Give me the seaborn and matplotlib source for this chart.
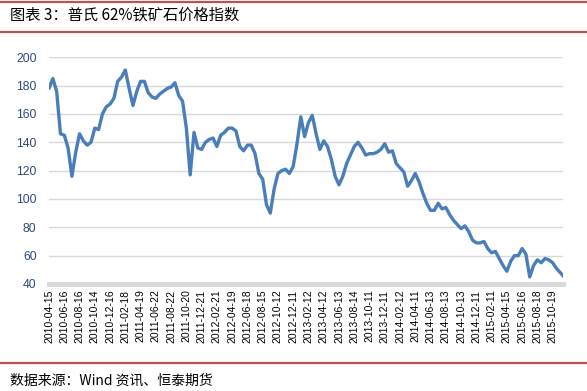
import matplotlib
matplotlib.use("Agg")
from matplotlib import pyplot as plt
from matplotlib.lines import Line2D
import numpy as np
import pandas as pd
import seaborn as sns

# Platts 62% iron ore index (4 readings per label interval)
PRICE = [178, 185, 176, 146, 145, 136, 116, 133, 146, 141,
         138, 140, 150, 149, 160, 165, 167, 171, 183, 186,
         191, 178, 166, 176, 183, 183, 175, 172, 171, 174,
         176, 178, 179, 182, 173, 169, 150, 117, 147, 136,
         135, 140, 142, 143, 137, 145, 147, 150, 150, 148,
         137, 134, 138, 138, 132, 118, 114, 96, 90, 107,
         118, 120, 121, 118, 123, 139, 158, 144, 154, 159,
         146, 135, 141, 137, 128, 116, 110, 116, 125, 131,
         137, 140, 136, 131, 132, 132, 133, 135, 139, 133,
         134, 125, 122, 119, 109, 113, 118, 112, 104, 97,
         92, 92, 97, 93, 94, 89, 85, 82, 79, 81,
         77, 71, 69, 69, 70, 65, 62, 63, 58, 53,
         49, 56, 60, 60, 65, 61, 45, 53, 57, 55,
         58, 57, 55, 51, 48, 45]

TICK_DATES = ['2010-04-15', '2010-06-16', '2010-08-16', '2010-10-14', '2010-12-16',
              '2011-02-18', '2011-04-19', '2011-06-22', '2011-08-22', '2011-10-20',
              '2011-12-21', '2012-02-21', '2012-04-19', '2012-06-18', '2012-08-15',
              '2012-10-12', '2012-12-11', '2013-02-12', '2013-04-12', '2013-06-13',
              '2013-08-14', '2013-10-11', '2013-12-11', '2014-02-12', '2014-04-11',
              '2014-06-13', '2014-08-13', '2014-10-13', '2014-12-11', '2015-02-11',
              '2015-04-15', '2015-06-16', '2015-08-18', '2015-10-19']
POINTS_PER_TICK = 4

TITLE = '图表 3：普氏 62%铁矿石价格指数'
SOURCE = '数据来源：Wind 资讯、恒泰期货'

sns.set_theme(style="white")
plt.rcParams['font.family'] = ['Noto Sans CJK SC', 'DejaVu Sans']

df = pd.DataFrame({'idx': np.arange(len(PRICE)), 'price': PRICE})

fig = plt.figure(figsize=(5.87, 3.91), dpi=100)
ax = fig.add_axes([0.0835, 0.2737, 0.8755, 0.5798])

sns.lineplot(data=df, x='idx', y='price', ax=ax, color='#4A7EBB', linewidth=2.4)

ax.set_ylim(40, 200)
ax.set_yticks(range(40, 201, 20))
ax.set_xlim(0, len(PRICE) - 1.3)
ax.set_xticks(np.arange(len(TICK_DATES)) * POINTS_PER_TICK)
ax.set_xticklabels(TICK_DATES, rotation=90, fontsize=7.5, color='black',
                   family=['Liberation Sans', 'DejaVu Sans'])
for lab in ax.get_yticklabels():
    lab.set_fontsize(8.8)
    lab.set_color('#2E4A7D')
    lab.set_family(['Liberation Sans', 'DejaVu Sans'])
ax.tick_params(axis='both', length=0, pad=4)
ax.tick_params(axis='y', pad=9)
ax.set_xlabel('')
ax.set_ylabel('')
ax.grid(axis='y', color='#D9D9D9', linewidth=1)
ax.grid(axis='x', visible=False)
for side in ['left', 'right', 'top']:
    ax.spines[side].set_visible(False)
ax.spines['bottom'].set_color('#D9D9D9')
ax.spines['bottom'].set_linewidth(3.5)

# header / footer with red rules
red = '#C0504D'
fig.add_artist(Line2D([0, 1], [1 - 2 / 391, 1 - 2 / 391], color=red, linewidth=1.6))
fig.add_artist(Line2D([0, 1], [1 - 32 / 391, 1 - 32 / 391], color=red, linewidth=1.6))
fig.add_artist(Line2D([0, 1], [1 - 363 / 391, 1 - 363 / 391], color=red, linewidth=1.6))
fig.text(10 / 587, 1 - 15 / 391, TITLE, fontsize=11, va='center', ha='left', color='black')
fig.text(10 / 587, 1 - 381 / 391, SOURCE, fontsize=10, va='center', ha='left', color='black')

fig.savefig('out.png', dpi=100, facecolor='white')
